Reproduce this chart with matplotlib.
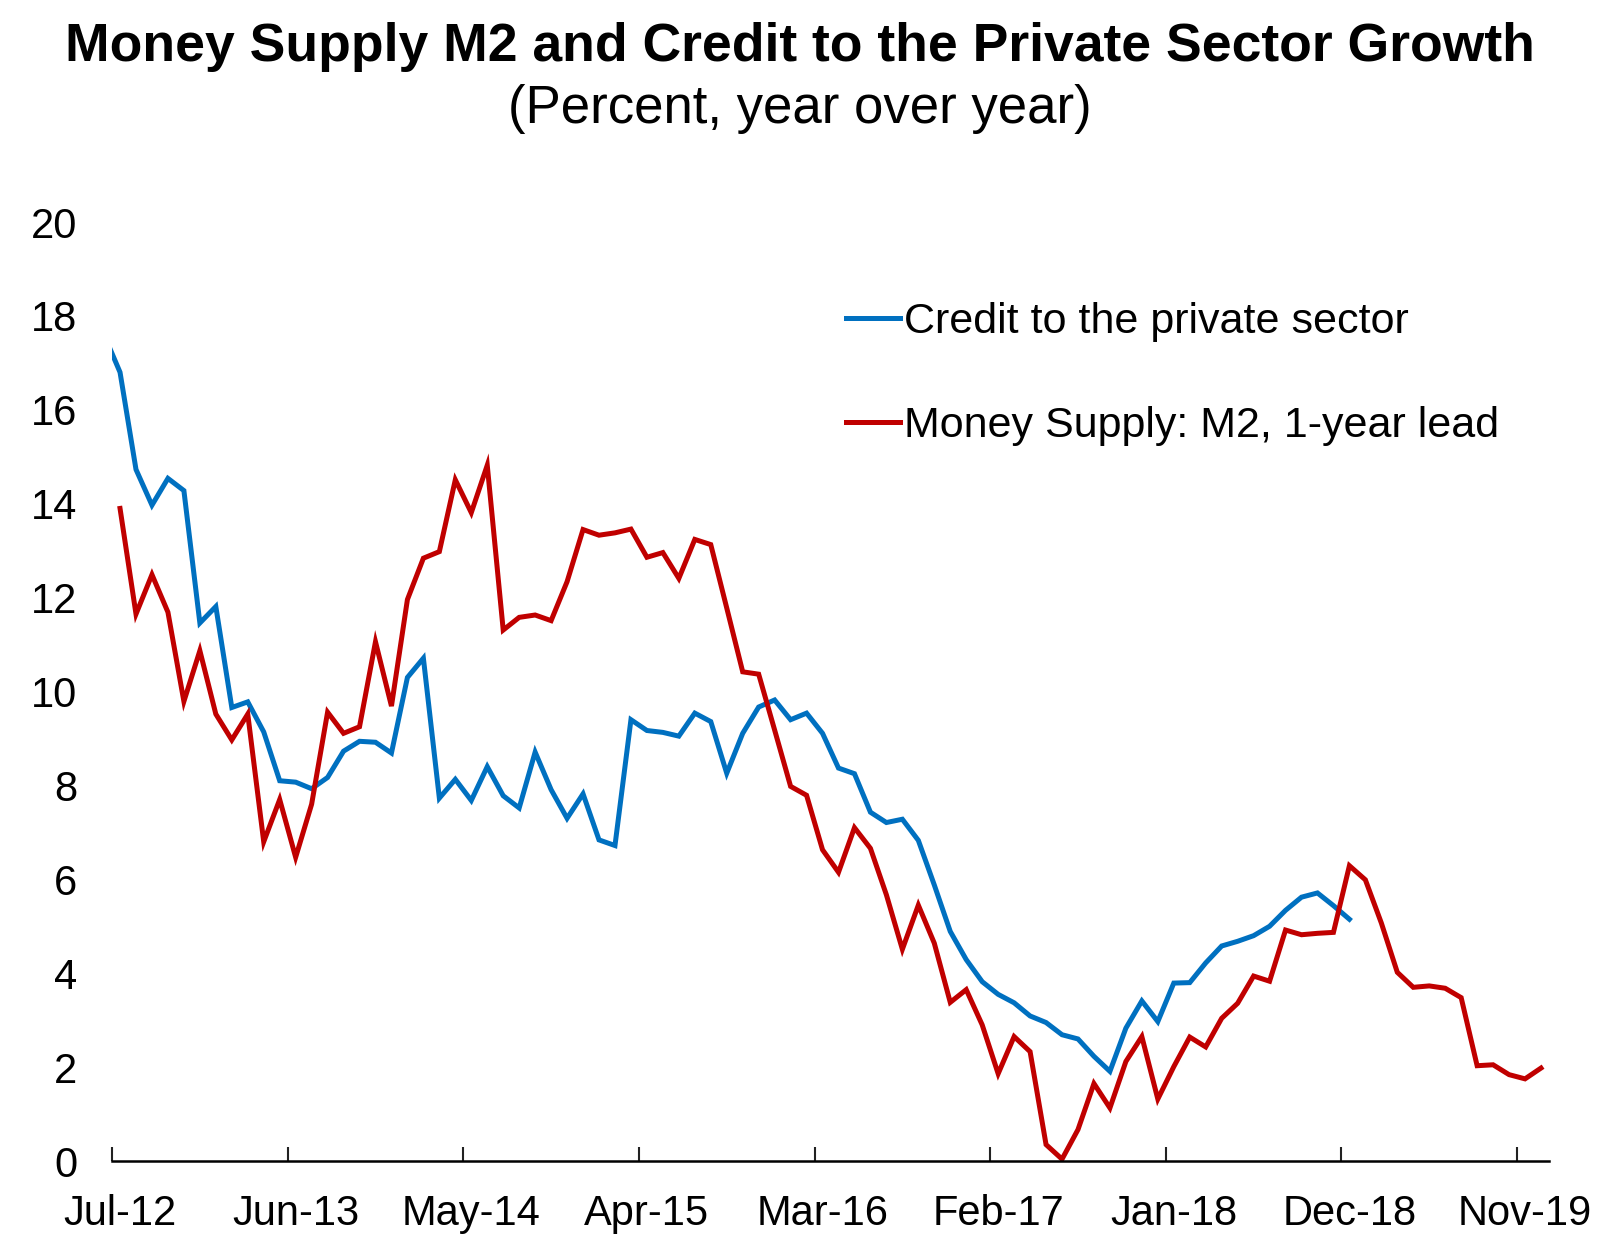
import numpy as np
import matplotlib
matplotlib.use("Agg")
import matplotlib.pyplot as plt

plt.rcParams['font.family'] = ['Liberation Sans', 'DejaVu Sans']

# monthly categories, index 0 = Jul-12 (credit series starts one month earlier, Jun-12)
tick_labels = ["Jul-12", "Jun-13", "May-14", "Apr-15", "Mar-16",
               "Feb-17", "Jan-18", "Dec-18", "Nov-19"]
n_months = 90  # Jul-12 .. Dec-19

# Credit to the private sector, Jun-12 .. Dec-18
credit = [17.6, 16.8, 14.73, 13.97, 14.54, 14.28, 11.46, 11.81, 9.66, 9.78,
          9.14, 8.10, 8.07, 7.93, 8.17, 8.73, 8.94, 8.92, 8.69, 10.30,
          10.71, 7.73, 8.13, 7.68, 8.40, 7.78, 7.52, 8.71, 7.91, 7.30,
          7.82, 6.84, 6.72, 9.40, 9.17, 9.13, 9.05, 9.54, 9.36, 8.26,
          9.11, 9.67, 9.82, 9.40, 9.54, 9.11, 8.37, 8.25, 7.43, 7.21,
          7.28, 6.83, 5.88, 4.89, 4.29, 3.82, 3.55, 3.37, 3.09, 2.95,
          2.69, 2.60, 2.23, 1.91, 2.83, 3.41, 2.97, 3.79, 3.80, 4.22,
          4.58, 4.68, 4.80, 5.00, 5.34, 5.62, 5.71, 5.44, 5.15]

# Money supply M2 with 1-year lead, Jul-12 .. Dec-19
m2_lead = [13.90, 11.65, 12.49, 11.69, 9.79, 10.87, 9.52, 8.97, 9.52, 6.80,
           7.70, 6.47, 7.60, 9.56, 9.11, 9.25, 11.06, 9.69, 11.96, 12.84,
           12.98, 14.51, 13.81, 14.82, 11.31, 11.58, 11.63, 11.51, 12.34, 13.45,
           13.33, 13.38, 13.46, 12.86, 12.96, 12.41, 13.24, 13.13, 11.78, 10.42,
           10.37, 9.18, 7.98, 7.79, 6.63, 6.15, 7.10, 6.66, 5.67, 4.51,
           5.45, 4.64, 3.38, 3.65, 2.90, 1.86, 2.65, 2.33, 0.35, 0.04,
           0.67, 1.65, 1.13, 2.12, 2.65, 1.32, 2.01, 2.64, 2.43, 3.04,
           3.36, 3.94, 3.83, 4.92, 4.82, 4.85, 4.87, 6.29, 5.99, 5.07,
           4.02, 3.70, 3.73, 3.68, 3.48, 2.03, 2.05, 1.84, 1.75, 1.98]

x_credit = np.arange(-1, len(credit) - 1)
x_m2 = np.arange(len(m2_lead))

fig = plt.figure(figsize=(16.03, 12.35), dpi=100)
ax = fig.add_axes([0.0699, 0.0599, 0.8964, 0.7603])

ax.plot(x_credit, credit, color='#0070C0', lw=3.6,
        label='Credit to the private sector', solid_joinstyle='miter')
ax.plot(x_m2, m2_lead, color='#C00000', lw=3.6,
        label='Money Supply: M2, 1-year lead', solid_joinstyle='miter')

ax.set_xlim(-0.5, n_months - 0.5)
ax.set_ylim(0, 20)
ax.set_yticks(np.arange(0, 21, 2))

label_pos = np.arange(0, 89, 11)
ax.set_xticks(label_pos)
ax.set_xticklabels(tick_labels)
ax.set_xticks(label_pos - 0.5, minor=True)
ax.tick_params(axis='x', which='major', length=0, pad=24, labelsize=30)
ax.tick_params(axis='x', which='minor', direction='in', length=10,
               width=1.5, color='#222222')
ax.tick_params(axis='y', length=0, pad=25, labelsize=30)

for side in ['left', 'right', 'top']:
    ax.spines[side].set_visible(False)
ax.spines['bottom'].set_linewidth(1.8)

ax.legend(loc='upper left', bbox_to_anchor=(0.5278, 0.7555),
          bbox_transform=fig.transFigure, frameon=False, fontsize=31,
          handlelength=1.25, handletextpad=0.1, labelspacing=1.48,
          borderpad=0, borderaxespad=0)

fig.text(0.499, 0.9506, 'Money Supply M2 and Credit to the Private Sector Growth',
         ha='center', va='baseline', fontsize=38.5, fontweight='bold')
fig.text(0.499, 0.9004, '(Percent, year over year)',
         ha='center', va='baseline', fontsize=38)

fig.savefig('out.png', dpi=100, facecolor='white')
